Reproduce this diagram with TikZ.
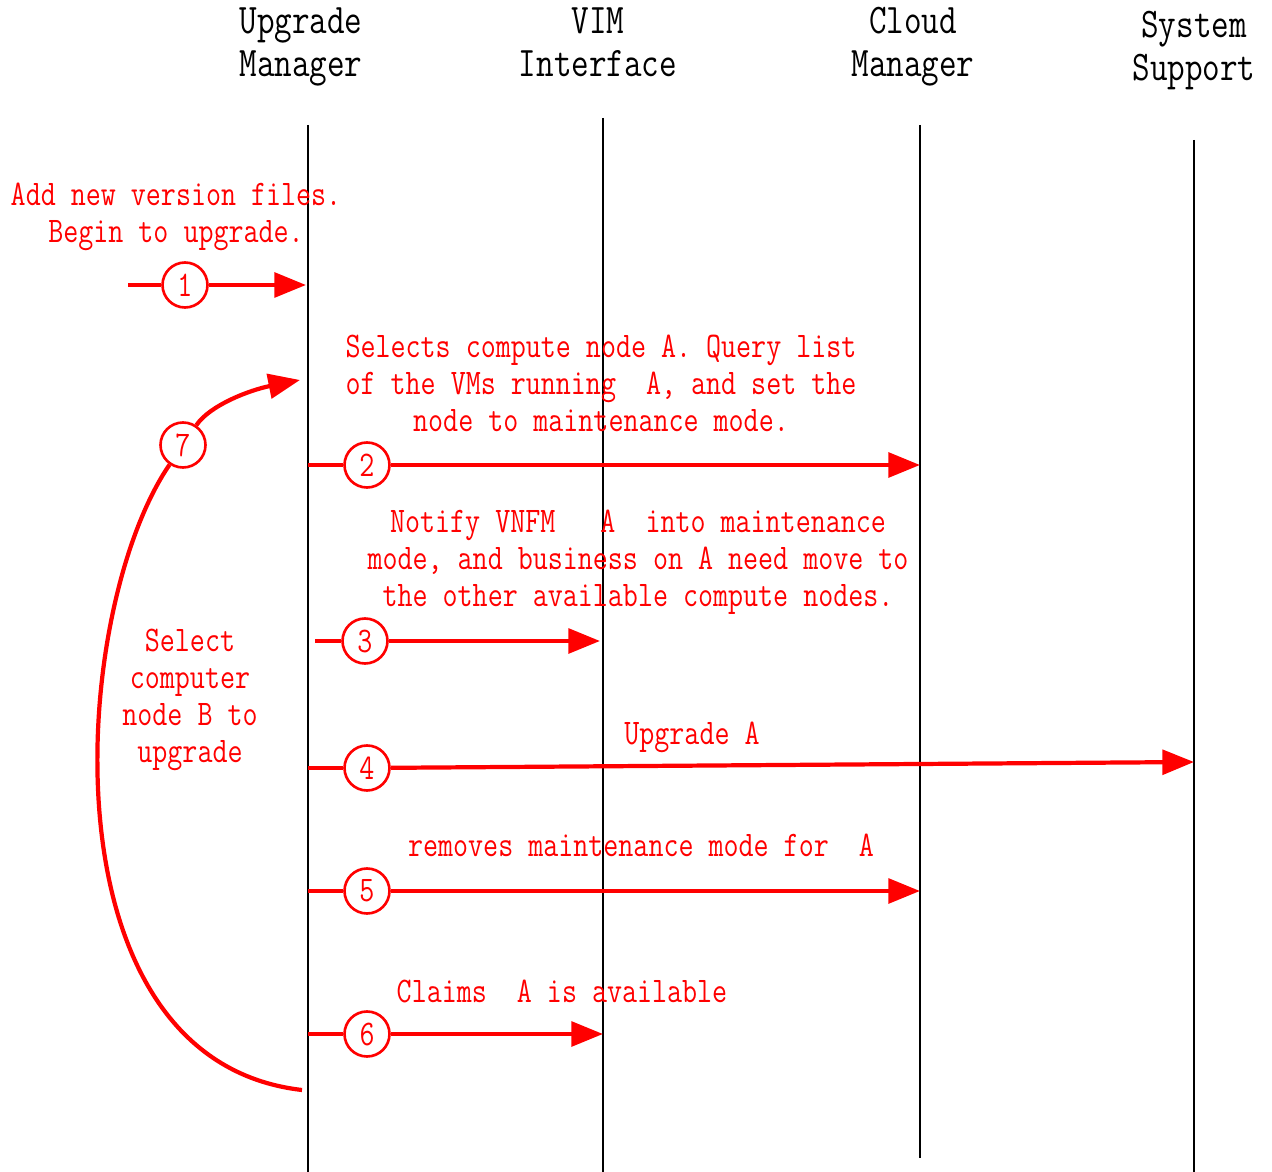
\documentclass[tikz,border=0pt]{standalone}
\usepackage{fontspec}
\setmainfont[FakeStretch=0.81]{Latin Modern Mono}
\usetikzlibrary{arrows.meta}
\tikzstyle{header} = [text centered, align=center, font=\fontsize{24pt}{24.5pt}\selectfont]
\tikzstyle{lifeline} = [line width=1.5pt]
\tikzstyle{msgtext} = [text=red, align=center, font=\fontsize{20.5pt}{21pt}\selectfont]
\tikzstyle{stepcircle} = [circle, draw=red, line width=1.5pt, text=red, fill=white, minimum size=0.9cm, inner sep=0pt, font=\fontsize{20.5pt}{21pt}\selectfont]
\tikzstyle{msgline} = [red, line width=2.4pt]
\tikzstyle{msgarrow} = [msgline, -{Triangle[length=18pt, width=14pt]}]

\begin{document}
\begin{tikzpicture}[x=0.02cm, y=-0.02cm]
		\useasboundingbox (0,0) rectangle (1272,1172);
		\node (um) [header] at (301,47) {Upgrade\\Manager};
		\node (vim) [header] at (598,42) {VIM\\Interface};
		\node (cm) [header] at (913,47) {Cloud\\Manager};
		\node (ss) [header] at (1194,51) {System\\Support};
		\coordinate (umtop) at (308,125);
		\coordinate (umbot) at (308,1172);
		\coordinate (vimtop) at (603,118);
		\coordinate (vimbot) at (603,1172);
		\coordinate (cmtop) at (920,125);
		\coordinate (cmbot) at (920,1158);
		\coordinate (sstop) at (1194,140);
		\coordinate (ssbot) at (1194,1172);
		\draw [lifeline] (umtop) -- (umbot);
		\draw [lifeline] (vimtop) -- (vimbot);
		\draw [lifeline] (cmtop) -- (cmbot);
		\draw [lifeline] (sstop) -- (ssbot);

		\node (t1) [msgtext] at (176,217) {Add new version files.\\Begin to upgrade.};
		\coordinate (m1s) at (128,285);
		\coordinate (m1e) at (306,285);
		\node (s1) [stepcircle] at (185,285) {1};
		\draw [msgline] (m1s) -- (s1);
		\draw [msgarrow] (s1) -- (m1e);

		\node (t2) [msgtext] at (601,383) {Selects compute node A. Query list\\of the VMs running~~A, and set the\\node to maintenance mode.};
		\coordinate (m2s) at (308,465);
		\coordinate (m2e) at (920,465);
		\node (s2) [stepcircle] at (367,465) {2};
		\draw [msgline] (m2s) -- (s2);
		\draw [msgarrow] (s2) -- (m2e);

		\node (t3) [msgtext] at (638,562) {Notify VNFM~~~A~~into maintenance\\mode, and business on A need move to\\the other available compute nodes.};
		\coordinate (m3s) at (315,641);
		\coordinate (m3e) at (600,641);
		\node (s3) [stepcircle] at (365,641) {3};
		\draw [msgline] (m3s) -- (s3);
		\draw [msgarrow] (s3) -- (m3e);

		\node (t4) [msgtext] at (692,737) {Upgrade A};
		\coordinate (m4s) at (308,768);
		\coordinate (m4e) at (1194,762);
		\node (s4) [stepcircle] at (367,768) {4};
		\draw [msgline] (m4s) -- (s4);
		\draw [msgarrow] (s4) -- (m4e);

		\node (t5) [msgtext] at (641,845) {removes maintenance mode for~~A};
		\coordinate (m5s) at (308,891);
		\coordinate (m5e) at (920,891);
		\node (s5) [stepcircle] at (367,891) {5};
		\draw [msgline] (m5s) -- (s5);
		\draw [msgarrow] (s5) -- (m5e);

		\node (t6) [msgtext] at (562,991) {Claims~~A is available};
		\coordinate (m6s) at (308,1034);
		\coordinate (m6e) at (603,1034);
		\node (s6) [stepcircle] at (367,1034) {6};
		\draw [msgline] (m6s) -- (s6);
		\draw [msgarrow] (s6) -- (m6e);

		\node (t7) [msgtext] at (190,700) {Select\\computer\\node B to\\upgrade};
		\coordinate (m7s) at (302,1090);
		\coordinate (m7e) at (300,380);
		\node (s7) [stepcircle] at (183,445) {7};
		\draw [msgline] (m7s) .. controls (40,1060) and (70,610) .. (s7);
		\draw [msgarrow] (s7) .. controls (210,405) and (250,390) .. (m7e);
	\end{tikzpicture}
\end{document}
